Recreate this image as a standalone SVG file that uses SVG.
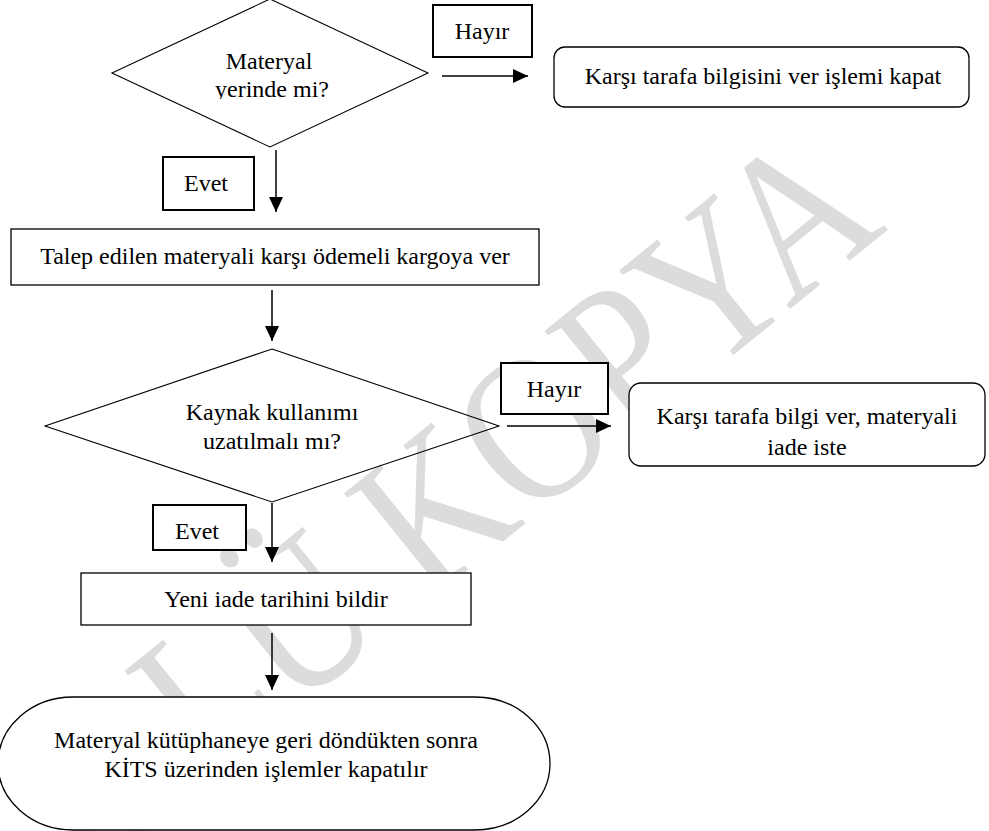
<svg xmlns="http://www.w3.org/2000/svg" width="989" height="831" viewBox="0 0 989 831">
<defs>
<style>
.wm{font-family:"Liberation Serif","Times New Roman",serif;font-size:210px;fill:#dcdcdc}
.t{font-family:"Liberation Serif","Times New Roman",serif;font-size:24px;fill:#000;text-anchor:middle}
.box{fill:#fff;stroke:#000;stroke-width:1.3}
.lbl{fill:#fff;stroke:#000;stroke-width:2}
.dia{fill:none;stroke:#000;stroke-width:1.1}
.cn{fill:none;stroke:#000;stroke-width:1.5}
</style>
<marker id="ah" markerUnits="userSpaceOnUse" markerWidth="15" markerHeight="14" refX="15" refY="7" orient="auto"><path d="M0,0 L15,7 L0,14 z" fill="#000"/></marker>
<clipPath id="c1"><rect x="100" y="0" width="340" height="99"/></clipPath>
</defs>
<rect width="989" height="831" fill="#fff"/>
<g id="watermark"><text class="wm" text-anchor="end" transform="translate(889,229) rotate(-39) scale(0.85,1)">KONTROLLÜ KOPYA</text></g>

<g id="decision1">
<polygon class="dia" points="270,-1 428,73 270,147 112,73"/>
<g clip-path="url(#c1)"><text class="t" x="269" y="69">Materyal</text><text class="t" x="272" y="97">yerinde mi?</text></g>
</g>
<g id="decision2">
<polygon class="dia" points="272,349 499,426 272,502 45,426"/>
<text class="t" x="272" y="420">Kaynak kullanımı</text>
<text class="t" x="272" y="449">uzatılmalı mı?</text>
</g>

<g id="connectors">
<line class="cn" x1="442" y1="76" x2="528" y2="76" marker-end="url(#ah)"/>
<line class="cn" x1="276" y1="150" x2="276" y2="212" marker-end="url(#ah)"/>
<line class="cn" x1="272" y1="290" x2="272" y2="341" marker-end="url(#ah)"/>
<line class="cn" x1="507" y1="426" x2="611" y2="426" marker-end="url(#ah)"/>
<line class="cn" x1="272" y1="503" x2="272" y2="562" marker-end="url(#ah)"/>
<line class="cn" x1="272" y1="633" x2="272" y2="690" marker-end="url(#ah)"/>
</g>

<g id="label-hayir1"><rect class="lbl" x="433" y="5" width="99" height="52"/><text class="t" x="482" y="39">Hayır</text></g>
<g id="end-no1"><rect class="box" x="554" y="47" width="415" height="60" rx="11"/><text class="t" x="763" y="84">Karşı tarafa bilgisini ver işlemi kapat</text></g>
<g id="label-evet1"><rect class="lbl" x="163" y="157" width="91" height="53"/><text class="t" x="206" y="191">Evet</text></g>
<g id="ship"><rect class="box" x="11" y="229" width="528" height="56"/><text class="t" x="275" y="264">Talep edilen materyali karşı ödemeli kargoya ver</text></g>
<g id="label-hayir2"><rect class="lbl" x="501" y="363" width="107" height="51"/><text class="t" x="554" y="397">Hayır</text></g>
<g id="end-no2"><rect class="box" x="629" y="383" width="356" height="83" rx="12"/><text class="t" x="807" y="424">Karşı tarafa bilgi ver, materyali</text><text class="t" x="807" y="455">iade iste</text></g>
<g id="label-evet2"><rect class="lbl" x="153" y="505" width="93" height="45"/><text class="t" x="197" y="539">Evet</text></g>
<g id="notify"><rect class="box" x="81" y="573" width="390" height="52"/><text class="t" x="276" y="607">Yeni iade tarihini bildir</text></g>
<g id="terminal"><path class="box" d="M73,697 H475 A75,66.5 0 0 1 475,830 H73 A75,66.5 0 0 1 73,697 Z"/><text class="t" x="266" y="748">Materyal kütüphaneye geri döndükten sonra</text><text class="t" x="266" y="777">KİTS üzerinden işlemler kapatılır</text></g>
</svg>
